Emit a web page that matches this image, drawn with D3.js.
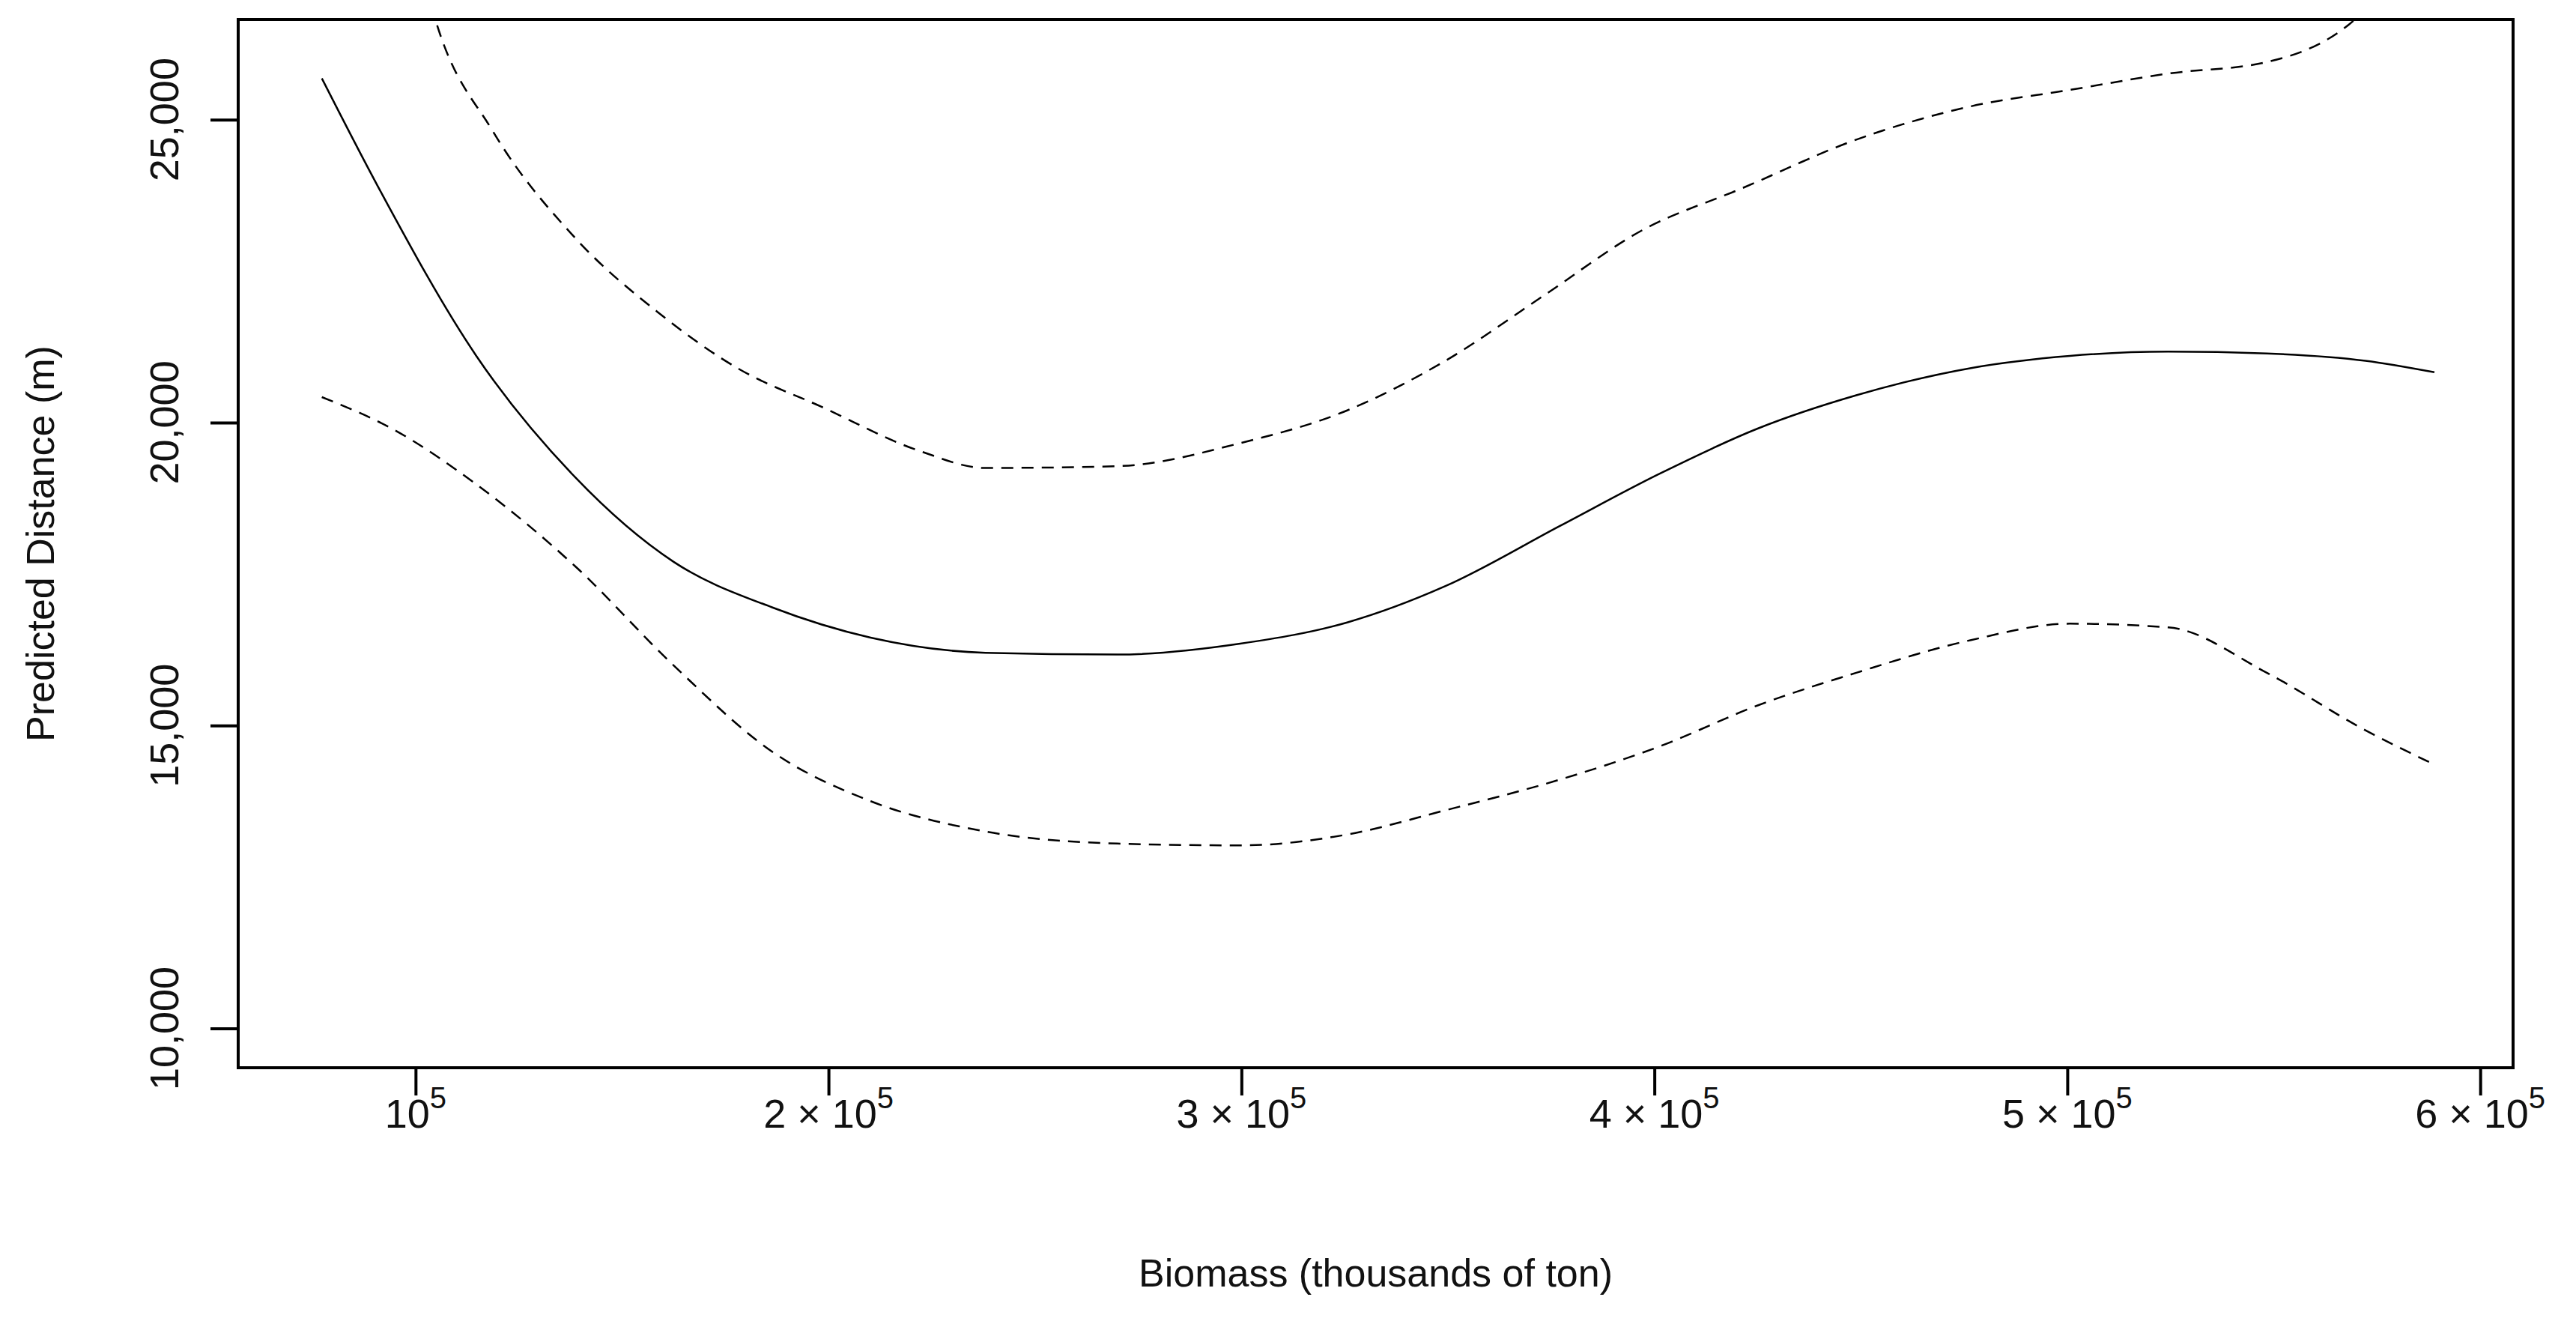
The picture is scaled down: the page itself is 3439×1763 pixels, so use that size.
<!DOCTYPE html>
<html><head><meta charset="utf-8">
<script src="https://cdn.jsdelivr.net/npm/d3@7"></script>
<style>body{margin:0;background:#fff}text{font-family:"Liberation Sans",Arial,sans-serif;fill:#111}</style>
</head><body><svg id="c" width="3439" height="1763"></svg>
<script>
const fitX = [77300,90850,114700,138600,162500,186300,210200,238000,269900,299700,325600,349400,377300,401100,425000,448900,476700,500600,524400,548300,572200,588900];
const fitY = [25680,23900,21100,19100,17700,16950,16450,16200,16170,16350,16700,17300,18300,19150,19900,20450,20900,21100,21170,21140,21020,20830];
const upX = [98000,104800,118700,138600,158500,178400,198300,222100,238000,269900,299700,325600,349400,373300,397200,421000,448900,476700,500600,524400,548300,568200,575000];
const upY = [28500,26650,24810,23050,21830,20880,20260,19530,19250,19280,19660,20200,21020,22100,23180,23860,24670,25220,25490,25760,25950,26570,27000];
const loX = [77300,94800,114700,138600,162500,186300,210200,238000,269900,299700,325600,349400,377300,401100,425000,448900,476700,500600,524400,548300,572200,588100];
const loY = [20420,19880,18980,17630,15990,14570,13750,13250,13050,13020,13200,13600,14110,14650,15330,15870,16410,16680,16620,15870,14920,14380];
const xTicks = [1,2,3,4,5,6];
const yTicks = [10000,15000,20000,25000];

const svg = d3.select("#c");
const L=318,R=3355,T=26,B=1425;
const x = d3.scaleLinear().domain([57040,607950]).range([L,R]);
const y = d3.scaleLinear().domain([9350,26653]).range([B,T]);
svg.append("clipPath").attr("id","cp").append("rect").attr("x",L).attr("y",T).attr("width",R-L).attr("height",B-T);
const line = d3.line().curve(d3.curveMonotoneX).x(d=>x(d[0])).y(d=>y(d[1]));
const g = svg.append("g").attr("clip-path","url(#cp)");
g.append("path").attr("d",line(fitX.map((v,i)=>[v,fitY[i]]))).attr("fill","none").attr("stroke","#000").attr("stroke-width",2.5);
g.append("path").attr("d",line(upX.map((v,i)=>[v,upY[i]]))).attr("fill","none").attr("stroke","#000").attr("stroke-width",2.5).attr("stroke-dasharray","16,11");
g.append("path").attr("d",line(loX.map((v,i)=>[v,loY[i]]))).attr("fill","none").attr("stroke","#000").attr("stroke-width",2.5).attr("stroke-dasharray","16,11");
svg.append("rect").attr("x",L).attr("y",T).attr("width",R-L).attr("height",B-T).attr("fill","none").attr("stroke","#000").attr("stroke-width",4);

const xa = svg.append("g").attr("transform",`translate(0,${B})`)
  .call(d3.axisBottom(x).tickValues(xTicks.map(d=>d*1e5)).tickSize(37).tickFormat(""));
xa.select(".domain").remove();
xa.selectAll("line").attr("stroke","#000").attr("stroke-width",4);
xTicks.forEach(k=>{
  const t = svg.append("text").attr("x",x(k*1e5)).attr("y",1505).attr("text-anchor","middle").attr("font-size",54);
  if(k>1){ t.append("tspan").text(k+" \u00d7 10"); } else { t.append("tspan").text("10"); }
  t.append("tspan").attr("dy",-26).attr("font-size",40).text("5");
});
const ya = svg.append("g").attr("transform",`translate(${L},0)`)
  .call(d3.axisLeft(y).tickValues(yTicks).tickSize(37).tickFormat(""));
ya.select(".domain").remove();
ya.selectAll("line").attr("stroke","#000").attr("stroke-width",4);
yTicks.forEach(v=>{
  svg.append("text").attr("transform",`translate(238,${y(v)}) rotate(-90)`).attr("text-anchor","middle").attr("font-size",54).text(d3.format(",")(v));
});
svg.append("text").attr("x",(L+R)/2).attr("y",1717).attr("text-anchor","middle").attr("font-size",52).text("Biomass (thousands of ton)");
svg.append("text").attr("transform",`translate(72,${(T+B)/2}) rotate(-90)`).attr("text-anchor","middle").attr("font-size",52).text("Predicted Distance (m)");
</script></body></html>
